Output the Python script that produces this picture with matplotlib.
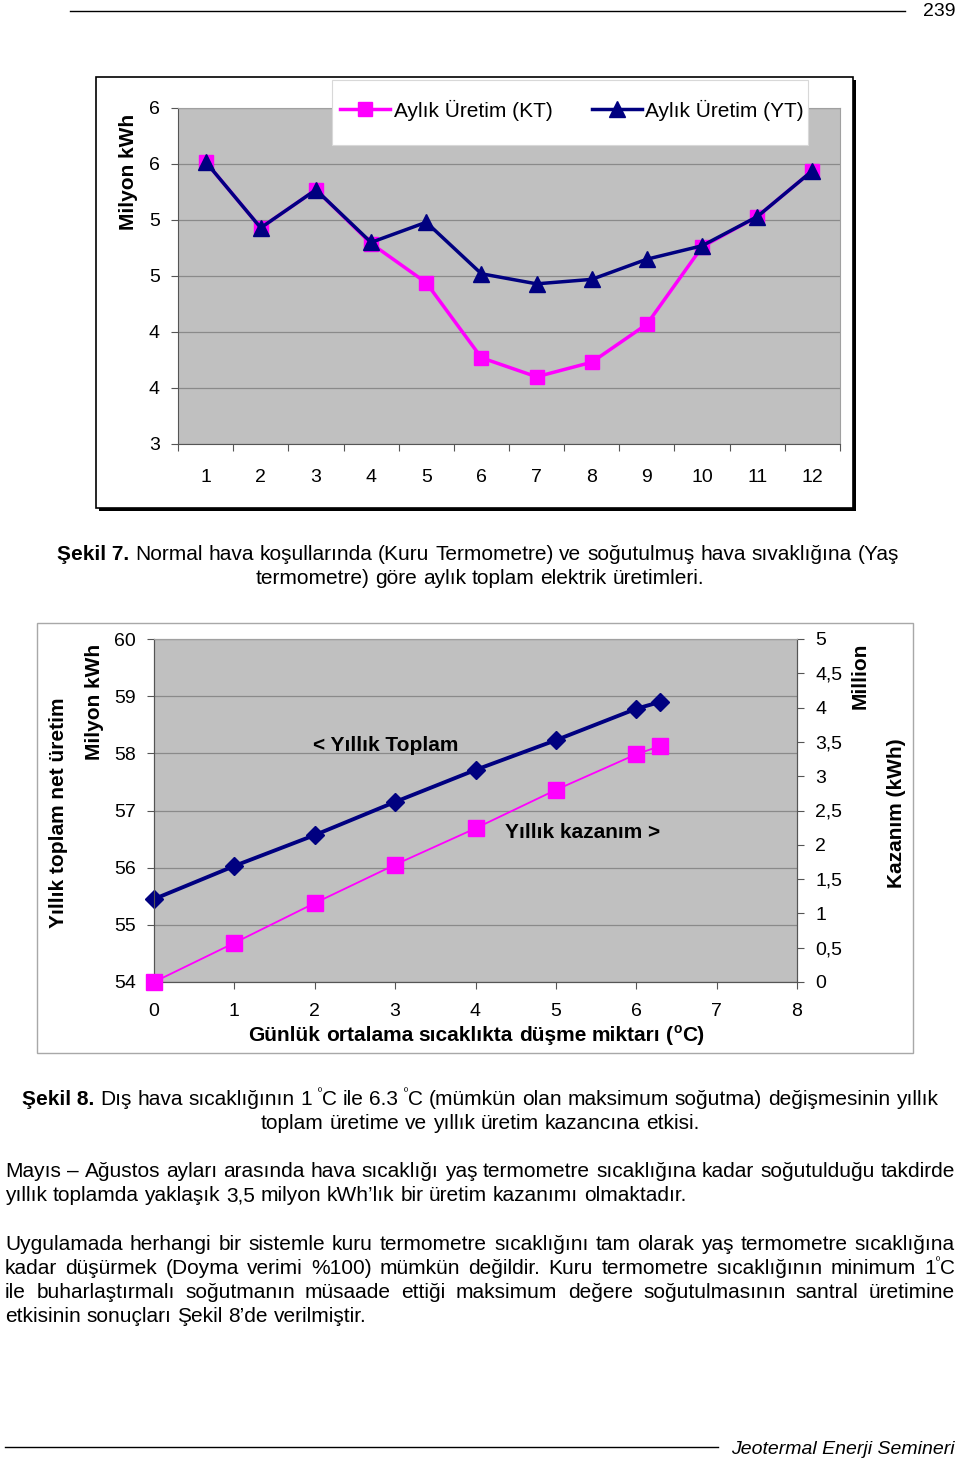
import matplotlib
matplotlib.use('Agg')
import matplotlib.pyplot as plt
from matplotlib.patches import Rectangle
from matplotlib.lines import Line2D

plt.rcParams['font.family'] = ['Liberation Sans', 'DejaVu Sans']

# ---- data: Sekil 7 (aylik uretim)
months = list(range(1, 13))
uretim_kt = [5.52, 4.93, 5.27, 4.79, 4.44, 3.77, 3.60, 3.73, 4.07, 4.76, 5.03, 5.44]
uretim_yt = [5.52, 4.93, 5.27, 4.80, 4.98, 4.52, 4.43, 4.47, 4.65, 4.77, 5.03, 5.44]
y1_ticks = [3, 3.5, 4, 4.5, 5, 5.5, 6]
y1_labels = ['3', '4', '4', '5', '5', '6', '6']

# ---- data: Sekil 8 (sicaklik dusmesi)
dusme = [0, 1, 2, 3, 4, 5, 6, 6.3]
yillik_toplam = [55.45, 56.03, 56.57, 57.15, 57.71, 58.23, 58.78, 58.90]
yillik_kazanim = [0, 0.57, 1.15, 1.71, 2.24, 2.80, 3.32, 3.44]
y2_right_ticks = [0, 0.5, 1, 1.5, 2, 2.5, 3, 3.5, 4, 4.5, 5]
y2_right_labels = ['0', '0,5', '1', '1,5', '2', '2,5', '3', '3,5', '4', '4,5', '5']

W, H = 960, 1460
fig = plt.figure(figsize=(W / 100, H / 100), dpi=100)
renderer = fig.canvas.get_renderer()

MAG = '#FF00FF'
NAVY = '#000080'
GRAY = '#C0C0C0'
GRID = '#8a8a8a'
TXT = 15      # body text size
LBL = 15      # chart label size
TCK = 14      # tick label size


def fx(x):
    return x / W


def fy(y):
    return 1 - y / H


def rect(l, t, r, b):
    return [l / W, 1 - b / H, (r - l) / W, (b - t) / H]


def box(l, t, r, b, **kw):
    p = Rectangle((fx(l), fy(b)), (r - l) / W, (b - t) / H, transform=fig.transFigure, **kw)
    fig.add_artist(p)
    return p


def hline(x0, x1, y, lw=1.0):
    fig.add_artist(Line2D([fx(x0), fx(x1)], [fy(y), fy(y)], transform=fig.transFigure,
                          color='black', lw=lw))


def seg_width(s, kw):
    kw = {k: v for k, v in kw.items() if k != 'dy'}
    t = fig.text(0, 0, s, **kw)
    w = t.get_window_extent(renderer).width
    t.remove()
    return w


def draw_line(y, words, mode='left', x0=5, x1=955, size=TXT):
    # words: list of words, each word a list of (text, props) segments
    base = {'fontsize': size}
    space = seg_width('a a', base) - seg_width('aa', base)
    widths = []
    for wd in words:
        widths.append([seg_width(s, {**base, **kw}) for s, kw in wd])
    sums = [sum(w) for w in widths]
    total = sum(sums) + space * (len(words) - 1)
    gap = space
    if mode == 'left':
        x = x0
    elif mode == 'center':
        x = (x0 + x1) / 2 - total / 2
    elif mode == 'right':
        x = x1 - total
    else:
        gap = (x1 - x0 - sum(sums)) / (len(words) - 1)
        x = x0
    for wd, ws in zip(words, widths):
        for (s, kw), w in zip(wd, ws):
            props = {**base, **kw}
            dy = props.pop('dy', 0)
            fig.text(fx(x), fy(y + dy), s, va='baseline', ha='left', **props)
            x += w
        x += gap


def plain(text, **kw):
    return [[(w, kw)] for w in text.split()]


# ================= Sekil 7 =================
box(96, 77, 853, 508, facecolor='white', edgecolor='black', lw=1.2, zorder=-1)
box(853, 80, 856, 511, facecolor='black', edgecolor='none', zorder=-1)
box(99, 508, 856, 511, facecolor='black', edgecolor='none', zorder=-1)

ax1 = fig.add_axes(rect(178, 108, 840, 444))
ax1.set_facecolor(GRAY)
ax1.plot(months, uretim_kt, color=MAG, lw=2.5, marker='s', ms=10, mec=MAG, mfc=MAG,
         label='Aylık Üretim (KT)', zorder=3, clip_on=False)
ax1.plot(months, uretim_yt, color=NAVY, lw=2.5, marker='^', ms=11, mec=NAVY, mfc=NAVY,
         label='Aylık Üretim (YT)', zorder=4, clip_on=False)
ax1.set_xlim(0.5, 12.5)
ax1.set_ylim(3, 6)
ax1.set_yticks(y1_ticks)
ax1.set_yticklabels(y1_labels)
ax1.set_xticks(months)
ax1.set_xticks([m + 0.5 for m in range(0, 13)], minor=True)
ax1.tick_params(axis='x', which='major', length=0, pad=18, labelsize=TCK)
ax1.tick_params(axis='x', which='minor', length=5, width=0.8, color='#555555')
ax1.tick_params(axis='y', length=5, width=0.8, color='#555555', pad=8, labelsize=TCK)
ax1.grid(axis='y', color=GRID, lw=0.9)
ax1.set_axisbelow(True)
for s in ['top', 'right']:
    ax1.spines[s].set_color('#a0a0a0')
for s in ['left', 'bottom']:
    ax1.spines[s].set_color('#555555')
fig.text(fx(128), fy(172), 'Milyon kWh', rotation=90, ha='center', va='center',
         fontsize=LBL, fontweight='bold')

box(332, 80, 808, 145, facecolor='white', edgecolor='#d8d8d8', lw=0.8, zorder=5)
h, l = ax1.get_legend_handles_labels()
leg = fig.legend(h, l, loc='center', bbox_to_anchor=(fx(572), fy(110)), ncol=2,
                 frameon=False, fontsize=15, handlelength=2.4, handletextpad=0.15,
                 columnspacing=1.9, borderaxespad=0)
leg.set_zorder(6)

# caption 7
draw_line(560, [[('Şekil 7.', {'fontweight': 'bold'})]] +
          plain('Normal hava koşullarında (Kuru Termometre) ve soğutulmuş hava sıvaklığına (Yaş'),
          mode='left', x0=57)
draw_line(584, plain('termometre) göre aylık toplam elektrik üretimleri.'), mode='center',
          x0=5, x1=955)

# ================= Sekil 8 =================
box(37, 623, 913, 1053, facecolor='white', edgecolor='#a8a8a8', lw=1.0, zorder=-1)
ax2 = fig.add_axes(rect(154, 639, 797, 982))
ax2.set_facecolor(GRAY)
ax2.plot(dusme, yillik_toplam, color=NAVY, lw=2.8, marker='D', ms=9.5, mec=NAVY, mfc=NAVY,
         zorder=4, clip_on=False)
ax2.set_xlim(0, 8)
ax2.set_ylim(54, 60)
ax2.set_xticks(range(0, 9))
ax2.set_yticks(range(54, 61))
ax2.tick_params(axis='x', length=5, width=0.8, color='#555555', pad=10, labelsize=TCK)
ax2.tick_params(axis='y', length=5, width=0.8, color='#555555', pad=8, labelsize=TCK)
ax2.grid(axis='y', color=GRID, lw=0.9)
ax2.set_axisbelow(True)

ax3 = ax2.twinx()
ax3.plot(dusme, yillik_kazanim, color=MAG, lw=1.3, marker='s', ms=11, mec=MAG, mfc=MAG,
         zorder=3, clip_on=False)
ax3.set_ylim(0, 5)
ax3.set_yticks(y2_right_ticks)
ax3.set_yticklabels(y2_right_labels)
ax3.tick_params(axis='y', length=5, width=0.8, color='#555555', pad=8, labelsize=TCK)
for a in (ax2, ax3):
    for s in ['top']:
        a.spines[s].set_color('#a0a0a0')
    for s in ['left', 'bottom', 'right']:
        a.spines[s].set_color('#555555')

fig.text(fx(58), fy(813), 'Yıllık toplam net üretim', rotation=90, ha='center', va='center',
         fontsize=LBL, fontweight='bold')
fig.text(fx(94), fy(702), 'Milyon kWh', rotation=90, ha='center', va='center',
         fontsize=LBL, fontweight='bold')
fig.text(fx(860), fy(676), 'Million', rotation=90, ha='center', va='center',
         fontsize=LBL, fontweight='bold')
fig.text(fx(896), fy(813), 'Kazanım (kWh)', rotation=90, ha='center', va='center',
         fontsize=LBL, fontweight='bold')
fig.text(fx(313), fy(745), '< Yıllık Toplam', ha='left', va='center', fontsize=LBL,
         fontweight='bold')
fig.text(fx(505), fy(832), 'Yıllık kazanım >', ha='left', va='center', fontsize=LBL,
         fontweight='bold')
b = {'fontweight': 'bold'}
draw_line(1041, plain('Günlük ortalama sıcaklıkta düşme', **b) +
          [[('miktarı', b)], [('(', b), ('o', {'fontweight': 'bold', 'fontsize': 10, 'dy': -8}),
                              ('C)', b)]],
          mode='center', x0=250, x1=702, size=LBL)

# caption 8
sup = {'fontsize': 8, 'dy': -10}
draw_line(1105, [[('Şekil 8.', {'fontweight': 'bold'})]] +
          plain('Dış hava sıcaklığının') + [[('1', {})], [('º', sup), ('C', {})]] +
          plain('ile') + [[('6.3', {})], [('º', sup), ('C', {})]] +
          plain('(mümkün olan maksimum soğutma) değişmesinin yıllık'),
          mode='center', x0=5, x1=955)
draw_line(1129, plain('toplam üretime ve yıllık üretim kazancına etkisi.'), mode='center',
          x0=5, x1=955)

# paragraphs
draw_line(1177, plain('Mayıs – Ağustos ayları arasında hava sıcaklığı yaş termometre '
                      'sıcaklığına kadar soğutulduğu takdirde'), mode='justify')
draw_line(1201, plain('yıllık toplamda yaklaşık 3,5 milyon kWh’lık bir üretim kazanımı '
                      'olmaktadır.'), mode='left')
draw_line(1250, plain('Uygulamada herhangi bir sistemle kuru termometre sıcaklığını tam '
                      'olarak yaş termometre sıcaklığına'), mode='justify')
draw_line(1274, plain('kadar düşürmek (Doyma verimi %100) mümkün değildir. Kuru termometre '
                      'sıcaklığının minimum') + [[('1', {}), ('º', sup), ('C', {})]],
          mode='justify')
draw_line(1298, plain('ile buharlaştırmalı soğutmanın müsaade ettiği maksimum değere '
                      'soğutulmasının santral üretimine'), mode='justify')
draw_line(1322, plain('etkisinin sonuçları Şekil 8’de verilmiştir.'), mode='left')

# header / footer
hline(70, 905, 11)
fig.text(fx(955), fy(16), '239', ha='right', va='baseline', fontsize=14)
hline(5, 718, 1447)
fig.text(fx(955), fy(1454), 'Jeotermal Enerji Semineri', ha='right', va='baseline',
         fontsize=14, fontstyle='italic')

fig.savefig('out.png', dpi=100)
